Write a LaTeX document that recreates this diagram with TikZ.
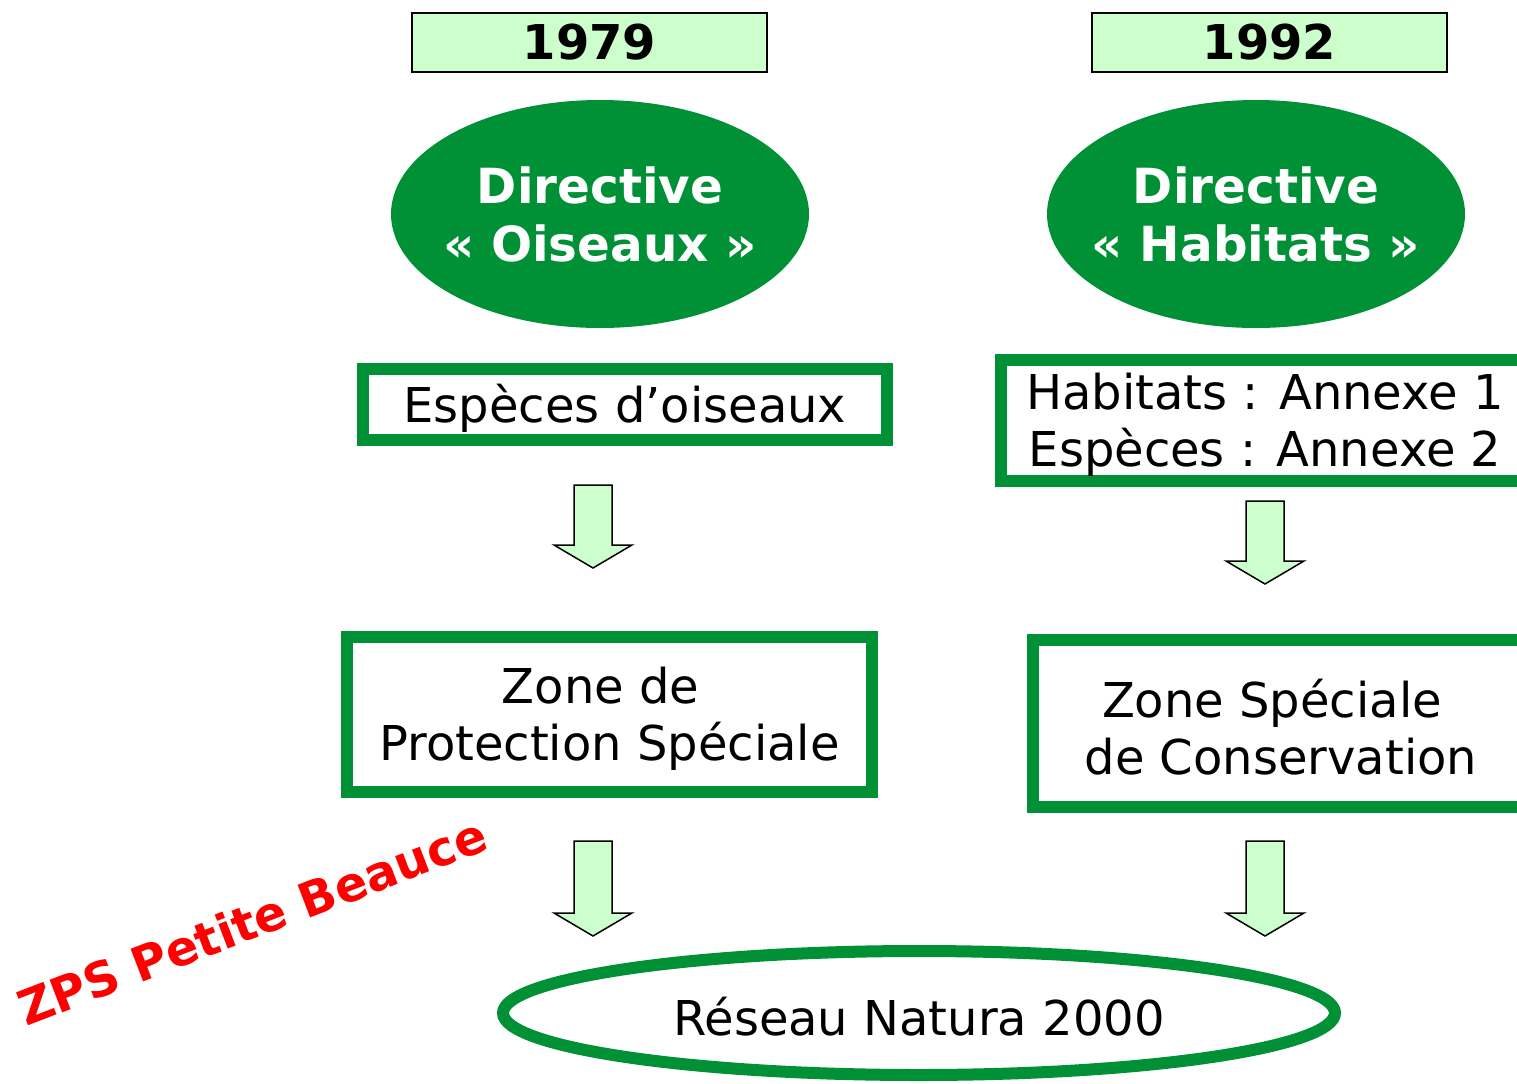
\documentclass[tikz,border=0pt]{standalone}
\usepackage{fontspec}
\setmainfont{DejaVu Sans}
\usetikzlibrary{shapes.geometric}
\definecolor{ngreen}{RGB}{0,144,54}
\definecolor{lgreen}{RGB}{204,255,204}
\definecolor{zred}{RGB}{255,0,0}
\newcommand\blockdown[3]{% x, ytop, ytip
  \draw[barrow] (#1-19,#2) -- (#1+19,#2) -- (#1+19,#3-23) -- (#1+39,#3-23) -- (#1,#3) -- (#1-39,#3-23) -- (#1-19,#3-23) -- cycle;}
\tikzset{
  yearbox/.style={draw=black, line width=1pt, fill=lgreen, minimum width=177.5pt, minimum height=29.5pt, inner sep=0pt,
    font=\fontsize{24}{28}\selectfont\bfseries},
  direll/.style={ellipse, fill=ngreen, minimum width=209pt, minimum height=114pt, inner sep=0pt},
  dirtext/.style={text=white, align=center, font=\fontsize{24.2}{29}\selectfont\bfseries},
  gbox/.style={draw=ngreen, line width=6pt, fill=white, inner sep=0pt},
  gtext/.style={align=center, font=\fontsize{24}{28.5}\selectfont, yshift=-2pt},
  barrow/.style={draw=black, line width=0.75pt, fill=lgreen, line join=miter},
}
\begin{document}
\begin{tikzpicture}[x=0.5pt, y=-0.5pt]
\useasboundingbox (0,0) rectangle (1517,1083);
\begin{scope}
\clip (0,0) rectangle (1517,1083);
\node[yearbox] (y1) at (589.5,42.5) {1979};
\node[yearbox] (y2) at (1269.5,42.5) {1992};
\node[direll, label={[dirtext]center:Directive\\« Oiseaux »}] (d1) at (600,214) {};
\node[direll, label={[dirtext]center:Directive\\« Habitats »}] (d2) at (1256,214) {};
\node[gbox, minimum width=262pt, minimum height=35.5pt, label={[gtext]center:Espèces d’oiseaux}] (e1) at (625,404.5) {};
\node[gbox, minimum width=264pt, minimum height=60.5pt, label={[gtext]center:Habitats : Annexe 1\\Espèces : Annexe 2}] (e2) at (1265,420.5) {};
\node[gbox, minimum width=262.5pt, minimum height=77.5pt, label={[gtext]center:Zone de\kern9pt\\Protection Spéciale}] (z1) at (609.5,714.5) {};
\node[gbox, minimum width=248pt, minimum height=83.5pt, label={[gtext]center:Zone Spéciale\kern9pt\\de Conservation}] (z2) at (1281,723.5) {};
\node[gbox, ellipse, minimum width=416pt, minimum height=62pt, label={[gtext]center:Réseau Natura 2000}] (n) at (919,1013) {};
\blockdown{593}{485}{568}
\blockdown{593}{841}{936}
\blockdown{1265}{501}{584}
\blockdown{1265}{841}{936}
\node[text=zred, rotate=21, font=\fontsize{24}{27}\selectfont\bfseries] (zps) at (252,921) {ZPS Petite Beauce};
\end{scope}
\end{tikzpicture}
\end{document}
